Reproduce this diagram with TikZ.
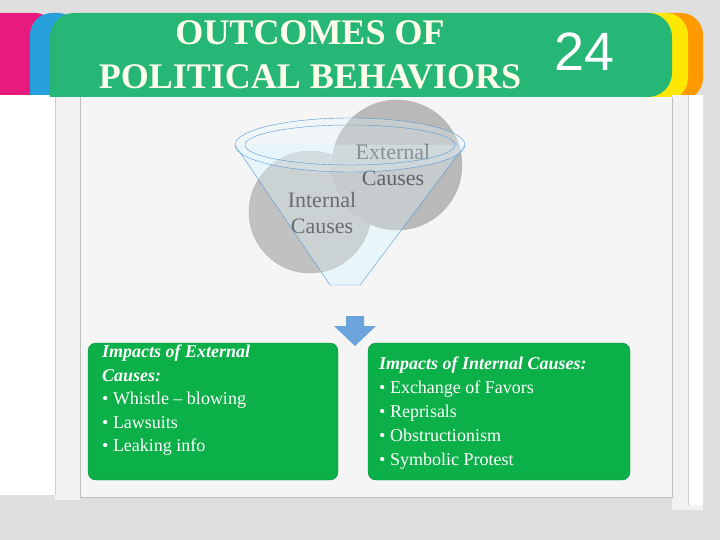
\documentclass[tikz,border=0pt]{standalone}
\usepackage{fontspec}
\setmainfont{Liberation Serif}
\newfontfamily\sansf{Liberation Sans}
\definecolor{hdr}{RGB}{38,182,118}
\definecolor{bx}{RGB}{12,176,72}
\definecolor{pk}{RGB}{232,26,128}
\definecolor{bl}{RGB}{40,160,220}
\begin{document}
\begin{tikzpicture}[x=1pt,y=-1pt,
  ball/.style={circle,fill=gray!55,draw=gray!60}]
\useasboundingbox (0,0) rectangle (720,540);
\fill[gray!25] (0,0) rectangle (720,540);
% tabs
\fill[pk, rounded corners=20pt] (-20,100) -- (-20,13) -- (55,13) -- (55,100) [sharp corners]-- cycle;
\fill[bl, rounded corners=22pt] (30,100) -- (30,13) -- (80,13) -- (80,100) [sharp corners]-- cycle;
\fill[orange!80!yellow, rounded corners=22pt] (640,100) -- (640,13) -- (703,13) -- (703,100) [sharp corners]-- cycle;
\fill[yellow!90!orange, rounded corners=22pt] (630,100) -- (630,13) -- (688,13) -- (688,100) [sharp corners]-- cycle;
% cards
\fill[white] (0,95) rectangle (55,495);
\fill[gray!10] (55,95) rectangle (80,500);
\fill[gray!10] (672,95) rectangle (703,510);
\fill[white] (688,95) rectangle (703,505);
\fill[gray!8] (80,97) rectangle (672,497);
\draw[gray!50] (80,97) -- (80,497) -- (672,497) -- (672,97);
\draw[gray!40] (55,95) -- (55,495);
\draw[gray!40] (688,95) -- (688,505);
% header
\fill[hdr, rounded corners=24pt] (50,97) -- (50,13) -- (672,13) -- (672,97) [sharp corners]-- cycle;
\node[text=yellow!8, font=\fontsize{36}{44}\selectfont\bfseries, align=center] (t) at (310,55) {OUTCOMES OF\\POLITICAL BEHAVIORS};
\node[text=white, font=\sansf\fontsize{54}{54}\selectfont] (n) at (585,52) {24};
% funnel
\fill[cyan!10, opacity=0.8] (235,145) -- (330,285) -- (360,285) -- (465,145) -- cycle;
\node[ball,minimum size=130pt] (ext) at (397,165) {};
\node[text=gray!30!black,align=center,font=\fontsize{22}{26}\selectfont] (et) at (393,165) {External\\Causes};
\node[ball,minimum size=122pt,fill opacity=0.85] (int) at (310,212) {};
\node[text=gray!40!black,align=center,font=\fontsize{22}{26}\selectfont] (it) at (322,213) {Internal\\Causes};
\fill[cyan!10, opacity=0.3] (235,145) -- (330,285) -- (360,285) -- (465,145) -- cycle;
\draw[cyan!60!blue!70] (235,145) -- (330,285) -- (360,285) -- (465,145);
\draw[cyan!60!blue!70,fill=cyan!10,fill opacity=0.3] (350,145) ellipse (115 and 27);
\draw[cyan!60!blue!70] (350,145) ellipse (105 and 20);
% arrow
\fill[cyan!60!blue!60] (346,316) -- (364,316) -- (364,326) -- (376,326) -- (355,346) -- (334,326) -- (346,326) -- cycle;
% boxes
\draw[fill=bx, draw=bx!80!black, rounded corners=8pt] (88,343) rectangle (338,480);
\draw[fill=bx, draw=bx!80!black, rounded corners=8pt] (368,343) rectangle (630,480);
\node[text=white, align=left, anchor=north west, inner sep=0pt, font=\fontsize{18}{23.5}\selectfont] (l) at (102,345) {\textit{\textbf{Impacts of External}}\\\textit{\textbf{Causes:}}\\• Whistle – blowing\\• Lawsuits\\• Leaking info};
\node[text=white, align=left, anchor=north west, inner sep=0pt, font=\fontsize{18}{24}\selectfont] (r) at (379,357) {\textit{\textbf{Impacts of Internal Causes:}}\\• Exchange of Favors\\• Reprisals\\• Obstructionism\\• Symbolic Protest};
\end{tikzpicture}
\end{document}
